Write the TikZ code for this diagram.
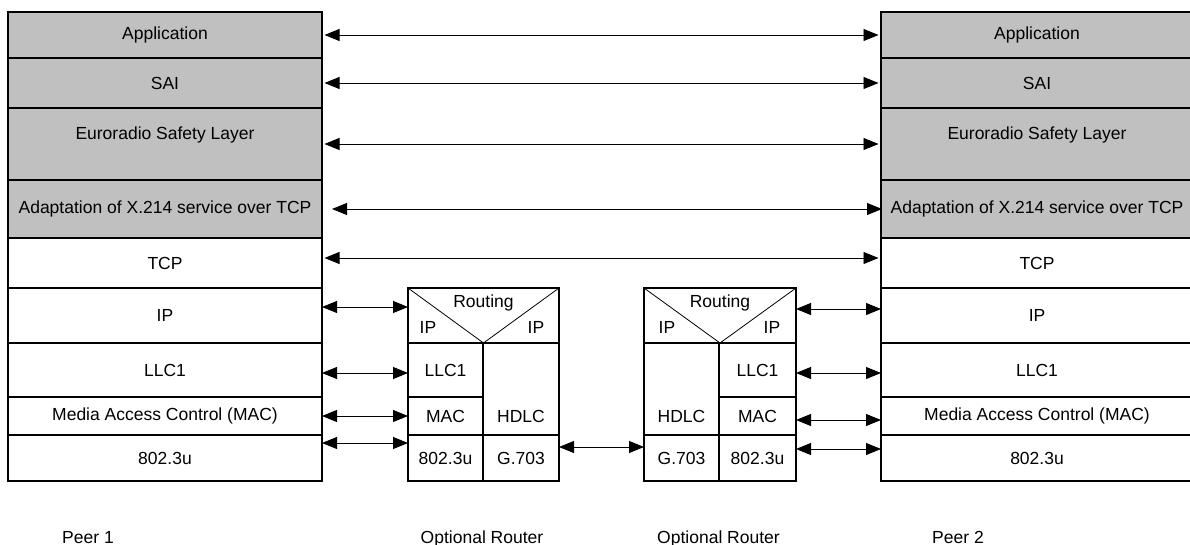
\documentclass[tikz,border=0pt]{standalone}
\usepackage{fontspec}
\setmainfont{Liberation Sans}
\usetikzlibrary{positioning,arrows.meta}
\definecolor{layergray}{RGB}{192,192,192}

\begin{document}
\begin{tikzpicture}[x=1pt, y=-1pt,
  cell/.style={draw, line width=1.6pt, rectangle, inner sep=0pt, outer sep=0pt,
               font=\fontsize{17.5}{21}\selectfont},
  upper/.style={cell, fill=layergray},
  txt/.style={inner sep=0pt, font=\fontsize{17.5}{21}\selectfont},
  link/.style={{Triangle[length=15pt,width=12pt]}-{Triangle[length=15pt,width=12pt]},
               line width=0.9pt},
  peer/.style={link, shorten <=2.5pt, shorten >=2.5pt}]
\useasboundingbox (0,0) rectangle (1190,545);
\node[upper, minimum width=314pt, minimum height=46pt] (lapp) at (165,35) {Application};
\node[upper, minimum width=314pt, minimum height=50pt] (lsai) at (165,83) {SAI};
\node[upper, minimum width=314pt, minimum height=72pt, text height=0pt, text depth=9.5pt] (lesl) at (165,144) {Euroradio Safety Layer};
\node[upper, minimum width=314pt, minimum height=58pt] (ladp) at (165,209) {Adaptation of X.214 service over TCP};
\node[cell, minimum width=314pt, minimum height=50pt] (ltcp) at (165,263) {TCP};
\node[cell, minimum width=314pt, minimum height=55pt] (lip) at (165,315.5) {IP};
\node[cell, minimum width=314pt, minimum height=54pt] (lllc) at (165,370) {LLC1};
\node[cell, minimum width=314pt, minimum height=38pt] (lmac) at (165,416) {Media Access Control (MAC)};
\node[cell, minimum width=314pt, minimum height=46pt] (lphy) at (165,458) {802.3u};
\node[upper, minimum width=312pt, minimum height=46pt] (rapp) at (1037,35) {Application};
\node[upper, minimum width=312pt, minimum height=50pt] (rsai) at (1037,83) {SAI};
\node[upper, minimum width=312pt, minimum height=72pt, text height=0pt, text depth=9.5pt] (resl) at (1037,144) {Euroradio Safety Layer};
\node[upper, minimum width=312pt, minimum height=58pt] (radp) at (1037,209) {Adaptation of X.214 service over TCP};
\node[cell, minimum width=312pt, minimum height=50pt] (rtcp) at (1037,263) {TCP};
\node[cell, minimum width=312pt, minimum height=55pt] (rip) at (1037,315.5) {IP};
\node[cell, minimum width=312pt, minimum height=54pt] (rllc) at (1037,370) {LLC1};
\node[cell, minimum width=312pt, minimum height=38pt] (rmac) at (1037,416) {Media Access Control (MAC)};
\node[cell, minimum width=312pt, minimum height=46pt] (rphy) at (1037,458) {802.3u};
\node[cell, minimum width=151pt, minimum height=55pt] (r1ip) at (483.5,315.5) {};
\node[cell, minimum width=75pt, minimum height=54pt] (r1llc) at (445.5,370) {LLC1};
\node[cell, minimum width=75pt, minimum height=38pt] (r1mac) at (445.5,416) {MAC};
\node[cell, minimum width=76pt, minimum height=92pt, text height=66pt, text depth=0pt] (r1hdlc) at (521,389) {HDLC};
\node[cell, minimum width=75pt, minimum height=46pt] (r1phy) at (445.5,458) {802.3u};
\node[cell, minimum width=76pt, minimum height=46pt] (r1g) at (521,458) {G.703};
\node[cell, minimum width=152pt, minimum height=55pt] (r2ip) at (720,315.5) {};
\node[cell, minimum width=75pt, minimum height=92pt, text height=66pt, text depth=0pt] (r2hdlc) at (681.5,389) {HDLC};
\node[cell, minimum width=77pt, minimum height=54pt] (r2llc) at (757.5,370) {LLC1};
\node[cell, minimum width=77pt, minimum height=38pt] (r2mac) at (757.5,416) {MAC};
\node[cell, minimum width=75pt, minimum height=46pt] (r2g) at (681.5,458) {G.703};
\node[cell, minimum width=77pt, minimum height=46pt] (r2phy) at (757.5,458) {802.3u};
\draw[line width=0.8pt] (r1ip.north west) -- (r1ip.south) -- (r1ip.north east);
\draw[line width=0.8pt] (r2ip.north west) -- (r2ip.south) -- (r2ip.north east);
\node[txt] (r1rt) at ([yshift=-15pt]r1ip.north) {Routing};
\node[txt] (r1ipa) at ([xshift=20pt,yshift=16pt]r1ip.south west) {IP};
\node[txt] (r1ipb) at ([xshift=-23pt,yshift=16pt]r1ip.south east) {IP};
\node[txt] (r2rt) at ([yshift=-15pt]r2ip.north) {Routing};
\node[txt] (r2ipa) at ([xshift=23pt,yshift=16pt]r2ip.south west) {IP};
\node[txt] (r2ipb) at ([xshift=-24pt,yshift=16pt]r2ip.south east) {IP};
\draw[peer] (lapp) -- (rapp);
\draw[peer] (lsai) -- (rsai);
\draw[peer] (lesl) -- (resl);
\draw[link, shorten <=10pt, shorten >=-1pt] (ladp) -- (radp);
\draw[peer] ([yshift=5pt]ltcp.east) -- ([yshift=5pt]rtcp.west);
\draw[link] ([yshift=8.5pt]lip.east) -- ([yshift=8.5pt]r1ip.west);
\draw[link] ([yshift=-3pt]lllc.east) -- ([yshift=-3pt]r1llc.west);
\draw[link] (lmac) -- (r1mac);
\draw[link] ([yshift=15pt]lphy.east) -- ([yshift=15pt]r1phy.west);
\draw[link] ([yshift=11pt]r1g.east) -- ([yshift=11pt]r2g.west);
\draw[link] ([yshift=6.5pt]r2ip.east) -- ([yshift=6.5pt]rip.west);
\draw[link] ([yshift=-3pt]r2llc.east) -- ([yshift=-3pt]rllc.west);
\draw[link] ([yshift=-4pt]r2mac.east) -- ([yshift=-4pt]rmac.west);
\draw[link] ([yshift=9pt]r2phy.east) -- ([yshift=9pt]rphy.west);
\node[txt, anchor=base] (peer1) at (88,543) {Peer 1};
\node[txt, anchor=base] (rt1) at (482,543) {Optional Router};
\node[txt, anchor=base] (rt2) at (718.5,543) {Optional Router};
\node[txt, anchor=base] (peer2) at (958,543) {Peer 2};
\end{tikzpicture}
\end{document}
